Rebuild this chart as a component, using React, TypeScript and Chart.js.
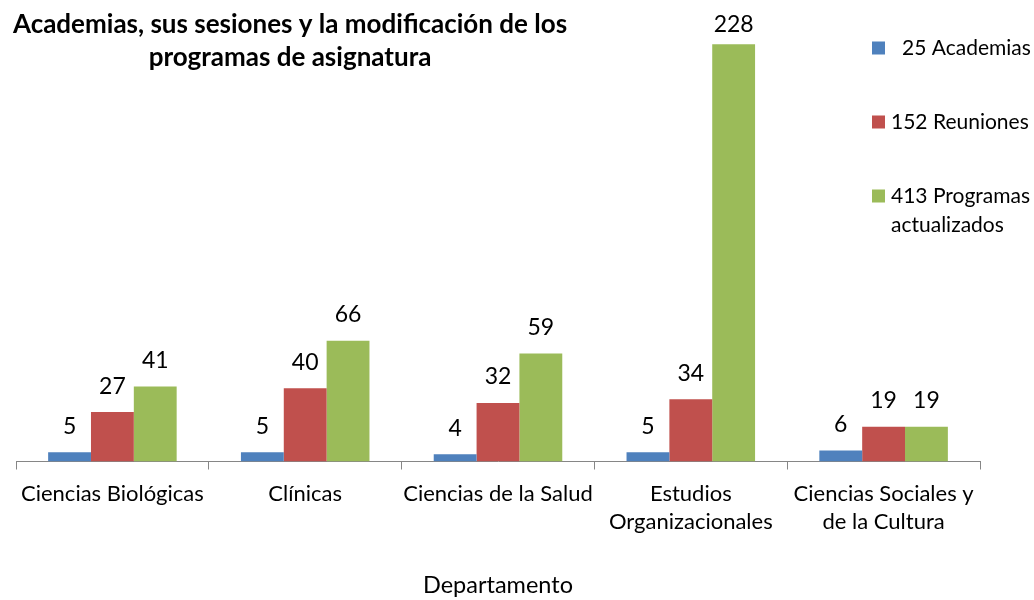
import React, { useEffect, useRef } from "react";
import { Chart, registerables } from "chart.js";

Chart.register(...registerables);

const categories: (string | string[])[] = [
  "Ciencias Biológicas",
  "Clínicas",
  "Ciencias de la Salud",
  ["Estudios", "Organizacionales"],
  ["Ciencias Sociales y", "de la Cultura"],
];
const academias = [5, 5, 4, 5, 6];
const reuniones = [27, 40, 32, 34, 19];
const programas = [41, 66, 59, 228, 19];
const seriesNames: (string | string[])[] = [
  "25 Academias",
  "152 Reuniones",
  ["413 Programas", "actualizados"],
];
const seriesColors = ["#4F81BD", "#C0504D", "#9BBB59"];
const titleLines = [
  "Academias, sus sesiones y la modificación de los",
  "programas de asignatura",
];
const xTitle = "Departamento";
const yMin = 0;
const yMax = 250;

const FONT = "Lato, 'Open Sans', sans-serif";

const overlayPlugin = {
  id: "overlay",
  afterDraw(chart: any) {
    const ctx = chart.ctx as CanvasRenderingContext2D;
    ctx.save();
    // data labels
    ctx.fillStyle = "#000";
    ctx.font = `23px ${FONT}`;
    ctx.textAlign = "center";
    ctx.textBaseline = "middle";
    chart.data.datasets.forEach((ds: any, di: number) => {
      const meta = chart.getDatasetMeta(di);
      meta.data.forEach((el: any, i: number) => {
        const y = Math.max(el.y - 26, 25);
        ctx.fillText(String(ds.data[i]), el.x, y);
      });
    });
    // title
    ctx.font = `bold 26px ${FONT}`;
    ctx.textAlign = "center";
    titleLines.forEach((t, i) => ctx.fillText(t, 290, 25 + i * 33));
    // legend
    const legendY = [48, 122, 196];
    const leadX = [902, 891, 891];
    ctx.font = `21px ${FONT}`;
    ctx.textAlign = "left";
    seriesNames.forEach((name, i) => {
      ctx.fillStyle = seriesColors[i];
      ctx.fillRect(872, legendY[i] - 6.5, 13, 13);
      ctx.fillStyle = "#000";
      const lines = Array.isArray(name) ? name : [name];
      lines.forEach((l, li) => ctx.fillText(l, leadX[i], legendY[i] + li * 29));
    });
    ctx.restore();
  },
};

export default function App() {
  const ref = useRef<HTMLCanvasElement | null>(null);
  useEffect(() => {
    if (!ref.current) return;
    const datasets = [academias, reuniones, programas].map((d, i) => ({
      label: Array.isArray(seriesNames[i]) ? (seriesNames[i] as string[]).join(" ") : (seriesNames[i] as string),
      data: d,
      backgroundColor: seriesColors[i],
      borderWidth: 0,
      categoryPercentage: 3 / 4.5,
      barPercentage: 1,
    }));
    const chart = new Chart(ref.current, {
      type: "bar",
      data: { labels: categories as any, datasets },
      plugins: [overlayPlugin],
      options: {
        animation: false,
        responsive: false,
        layout: { padding: { top: 4, left: 16, right: 54, bottom: 0 } },
        plugins: {
          legend: { display: false },
          title: { display: false },
          tooltip: { enabled: false },
        },
        scales: {
          x: {
            offset: true,
            grid: {
              offset: true,
              drawOnChartArea: false,
              drawTicks: true,
              tickLength: 8,
              color: "#868686",
              lineWidth: 1,
            },
            border: { display: true, color: "#868686", width: 1 },
            ticks: {
              color: "#000",
              font: { family: FONT, size: 22, lineHeight: 28 / 22 },
              padding: 10,
              maxRotation: 0,
              autoSkip: false,
            },
            title: {
              display: true,
              text: xTitle,
              color: "#000",
              font: { family: FONT, size: 23.5 },
              padding: { top: 0, bottom: 0 },
            },
            afterFit: (s: any) => {
              s.height = 138.5;
            },
          },
          y: { display: false, min: yMin, max: yMax },
        },
      },
    } as any);
    return () => chart.destroy();
  }, []);
  return (
    <div style={{ position: "absolute", left: 0, top: 0, width: 1034, height: 600, background: "#fff" }}>
      <canvas ref={ref} width={1034} height={600} />
    </div>
  );
}
